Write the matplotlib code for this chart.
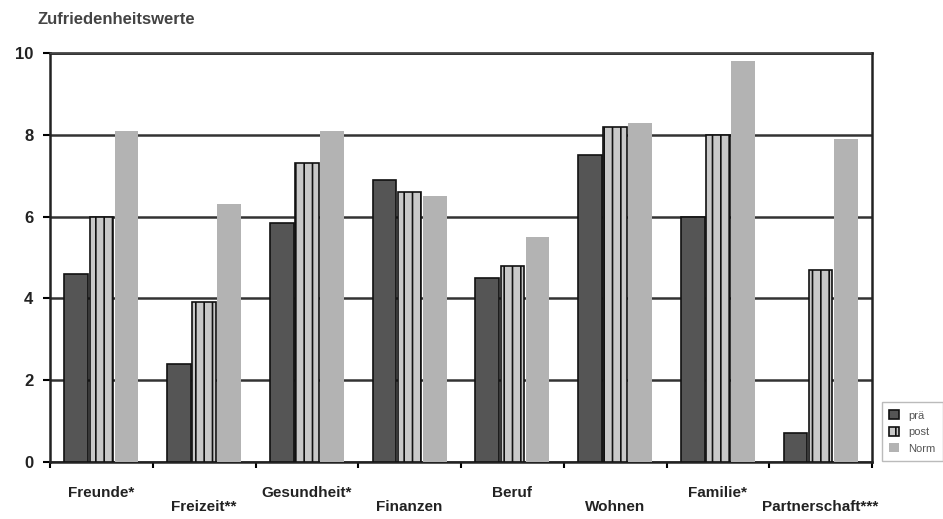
import numpy as np
import matplotlib
matplotlib.use('Agg')
import matplotlib.pyplot as plt

plt.rcParams['font.family'] = ['Liberation Sans Narrow', 'Liberation Sans', 'DejaVu Sans']
plt.rcParams['hatch.linewidth'] = 1.2

categories = ['Freunde*', 'Freizeit**', 'Gesundheit*', 'Finanzen', 'Beruf',
              'Wohnen', 'Familie*', 'Partnerschaft***']
prae = [4.6, 2.4, 5.85, 6.9, 4.5, 7.5, 6.0, 0.7]
post = [6.0, 3.9, 7.3, 6.6, 4.8, 8.2, 8.0, 4.7]
norm = [8.1, 6.3, 8.1, 6.5, 5.5, 8.3, 9.8, 7.9]
series_names = ['prä', 'post', 'Norm']

fig = plt.figure(figsize=(9.43, 5.19), dpi=100)
ax = fig.add_axes([50/943, 57/519, 822/943, 409/519])

x = np.arange(len(categories))
w = 0.23
ax.bar(x - 0.245, prae, w, color='#555555', edgecolor='#111111', linewidth=1.2,
       label=series_names[0], zorder=3)
ax.bar(x, post, w, color='#c8c8c8', edgecolor='#111111', linewidth=1.2,
       hatch='||', label=series_names[1], zorder=3)
ax.bar(x + 0.245, norm, w, color='#b3b3b3', edgecolor='none',
       label=series_names[2], zorder=3)

ax.set_xlim(-0.5, len(categories) - 0.5)
ax.set_ylim(0, 10)
ax.set_yticks([0, 2, 4, 6, 8, 10])
ax.set_yticklabels(['0', '2', '4', '6', '8', '10'], fontsize=12, fontweight='bold',
                   color='#222222')
ax.yaxis.grid(True, color='#333333', linewidth=1.8, zorder=0)
ax.tick_params(axis='y', direction='out', length=5, width=1.5, pad=7)

# category boundaries as ticks, labels staggered
ax.set_xticks(np.arange(len(categories) + 1) - 0.5)
ax.set_xticklabels([])
ax.tick_params(axis='x', direction='out', length=4, width=1.5)
for i, lab in enumerate(categories):
    yoff = -0.077 if i % 2 == 0 else -0.11
    ax.text(i, yoff, lab, transform=ax.get_xaxis_transform(), ha='center',
            va='center', fontsize=11, fontweight='bold', color='#222222')

for s in ['left', 'right', 'top', 'bottom']:
    ax.spines[s].set_linewidth(1.8)
    ax.spines[s].set_color('#222222')
ax.axhline(10, color='#444444', linewidth=1.0, zorder=4)

fig.text(38/943, 1 - 20/519, 'Zufriedenheitswerte', fontsize=12, fontweight='bold',
         color='#444444', va='center', ha='left')

leg = fig.legend(loc='lower left', bbox_to_anchor=(876/943, 52/519), fontsize=8,
                 frameon=True, fancybox=False, edgecolor='#aaaaaa',
                 handlelength=0.9, handleheight=0.9, labelspacing=0.55,
                 borderpad=0.7, handletextpad=0.8)
for t in leg.get_texts():
    t.set_color('#555555')

fig.savefig('out.png', dpi=100)
